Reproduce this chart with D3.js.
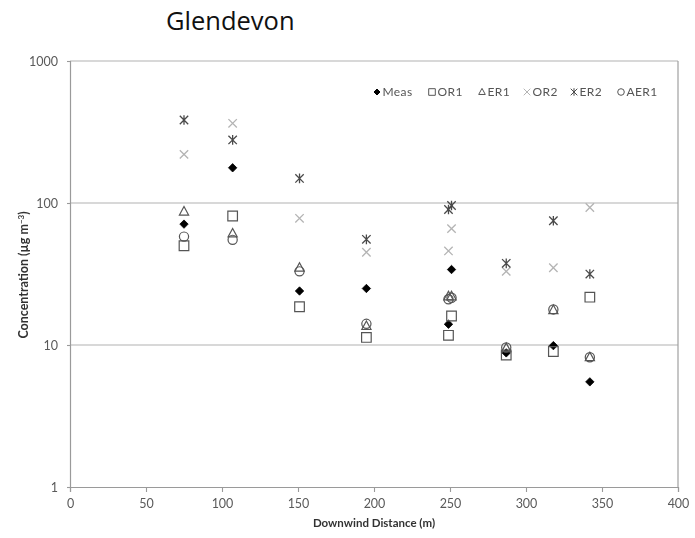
<!DOCTYPE html>
<html>
<head>
<meta charset="utf-8">
<script src="https://cdn.jsdelivr.net/npm/d3@7"></script>
<style>
  html, body { margin: 0; padding: 0; background: #fff; }
  svg { display: block; }
</style>
</head>
<body>
<svg id="chart" width="695" height="538"></svg>
<script>
// Downwind sampling distances (m)
const distance = [75, 107, 151, 195, 249, 251, 287, 318, 342];

// Concentrations (µg m-3) for each series at the distances above
const meas = [71, 177, 24, 25, 14, 34, 8.8, 9.9, 5.5];
const or1  = [50, 81, 18.6, 11.3, 11.7, 16, 8.5, 9.0, 21.7];
const er1  = [87, 61, 35, 13.6, 22, 22, 9.5, 17.6, 8.2];
const or2  = [220, 364, 78, 45, 46, 66, 33, 35, 93];
const er2  = [384, 278, 149, 55.5, 90, 96, 37.6, 75, 31.6];
const aer1 = [58, 55, 33, 14.1, 21, 21.5, 9.6, 17.8, 8.2];

const seriesNames = ["Meas", "OR1", "ER1", "OR2", "ER2", "AER1"];
const seriesValues = [meas, or1, er1, or2, er2, aer1];

const xTicks = [0, 50, 100, 150, 200, 250, 300, 350, 400];
const yTicks = [1, 10, 100, 1000];

const svg = d3.select("#chart");

const margin = { left: 70, right: 678, top: 61, bottom: 487 };

const x = d3.scaleLinear().domain([0, 400]).range([margin.left, margin.right]);
const y = d3.scaleLog().domain([1, 1000]).range([margin.bottom, margin.top]);

const font = "Lato, 'Open Sans', sans-serif";

// Soft rendering for the plot body
const defs = svg.append("defs");
defs.append("filter").attr("id", "soft")
  .attr("x", "-5%").attr("y", "-5%").attr("width", "110%").attr("height", "110%")
  .append("feGaussianBlur").attr("stdDeviation", 0.55);

// Marker shapes (path strings centred on 0,0)
function markerPath(kind, s) {
  switch (kind) {
    case "Meas": return `M0,${-s}L${s},0L0,${s}L${-s},0Z`;
    case "OR1": return `M${-s},${-s}H${s}V${s}H${-s}Z`;
    case "ER1": return `M0,${-s * 1.1}L${s},${s * 0.75}L${-s},${s * 0.75}Z`;
    case "OR2": return `M${-s},${-s}L${s},${s}M${-s},${s}L${s},${-s}`;
    case "ER2": return `M${-s},${-s}L${s},${s}M${-s},${s}L${s},${-s}M0,${-s * 1.15}L0,${s * 1.15}`;
    case "AER1": return d3.arc()({ innerRadius: 0, outerRadius: s, startAngle: 0, endAngle: 2 * Math.PI });
  }
}
const markerStyle = {
  Meas: { fill: "#000", stroke: "#000", sw: 0.8 },
  OR1:  { fill: "none", stroke: "#555", sw: 1.2 },
  ER1:  { fill: "none", stroke: "#555", sw: 1.2 },
  OR2:  { fill: "none", stroke: "#b4b4b4", sw: 1.3 },
  ER2:  { fill: "none", stroke: "#4a4a4a", sw: 1.3 },
  AER1: { fill: "none", stroke: "#555", sw: 1.2 }
};
const markerSize = { Meas: 4.2, OR1: 4.8, ER1: 4.6, OR2: 4.2, ER2: 4.2, AER1: 4.6 };

const body = svg.append("g").attr("filter", "url(#soft)");

// Gridlines at the major decades
body.append("g").selectAll("line")
  .data(yTicks.filter(d => d > 1))
  .join("line")
  .attr("x1", margin.left).attr("x2", margin.right)
  .attr("y1", d => y(d)).attr("y2", d => y(d))
  .attr("stroke", "#b2b2b2").attr("stroke-width", 1.2);

// Right border of plot area
body.append("line")
  .attr("x1", margin.right).attr("x2", margin.right)
  .attr("y1", margin.top).attr("y2", margin.bottom)
  .attr("stroke", "#a0a0a0").attr("stroke-width", 1.2);

// Axes
const xAxis = d3.axisBottom(x).tickValues(xTicks).tickSize(5).tickPadding(7);
const yAxis = d3.axisLeft(y).tickValues(yTicks).tickFormat(d3.format("d")).tickSize(3).tickPadding(9);

const gx = body.append("g").attr("transform", `translate(0,${margin.bottom})`).call(xAxis);
const gy = body.append("g").attr("transform", `translate(${margin.left},0)`).call(yAxis);
[gx, gy].forEach(g => {
  g.select(".domain").attr("stroke", "#9a9a9a").attr("stroke-width", 1.2);
  g.selectAll(".tick line").attr("stroke", "#9a9a9a").attr("stroke-width", 1.1);
  g.selectAll(".tick text")
    .attr("fill", "#5a5a5a")
    .style("font-family", font)
    .style("font-size", "12.5px");
});

// Axis titles
body.append("text")
  .attr("x", 374).attr("y", 527)
  .attr("text-anchor", "middle")
  .attr("fill", "#333")
  .style("font-family", font)
  .style("font-weight", "bold")
  .style("font-size", "11.5px")
  .text("Downwind Distance (m)");

const yt = body.append("text")
  .attr("transform", "translate(28,275) rotate(-90)")
  .attr("text-anchor", "middle")
  .attr("fill", "#333")
  .style("font-family", font)
  .style("font-weight", "bold")
  .style("font-size", "12.5px");
yt.append("tspan").text("Concentration (\u00b5g m");
yt.append("tspan").attr("dy", -4.5).style("font-size", "8px").text("\u22123");
yt.append("tspan").attr("dy", 4.5).text(")");

// Data markers, drawn series by series
seriesNames.forEach((name, i) => {
  const st = markerStyle[name];
  const pts = distance.map((d, j) => ({ d, v: seriesValues[i][j] }));
  body.append("g").selectAll("path")
    .data(pts)
    .join("path")
    .attr("transform", p => `translate(${x(p.d)},${y(p.v)})`)
    .attr("d", markerPath(name, markerSize[name]))
    .attr("fill", st.fill)
    .attr("stroke", st.stroke)
    .attr("stroke-width", st.sw);
});

// Legend
const legendX = [377, 432, 482, 527, 574, 621];
const legend = body.append("g").attr("transform", "translate(0,92)");
seriesNames.forEach((name, i) => {
  const st = markerStyle[name];
  const g = legend.append("g").attr("transform", `translate(${legendX[i]},0)`);
  g.append("path")
    .attr("d", markerPath(name, name === "Meas" ? 3 : 3.3))
    .attr("fill", st.fill)
    .attr("stroke", st.stroke)
    .attr("stroke-width", 1);
  g.append("text")
    .attr("x", 5.5).attr("y", 4.2)
    .attr("fill", "#555")
    .style("font-family", font)
    .style("font-size", "12px")
    .style("letter-spacing", "0.4px")
    .text(name);
});

// Chart title
svg.append("text")
  .attr("x", 166).attr("y", 30)
  .attr("fill", "#111")
  .style("font-family", "'Open Sans', sans-serif")
  .style("font-size", "25.5px")
  .text("Glendevon");
</script>
</body>
</html>
